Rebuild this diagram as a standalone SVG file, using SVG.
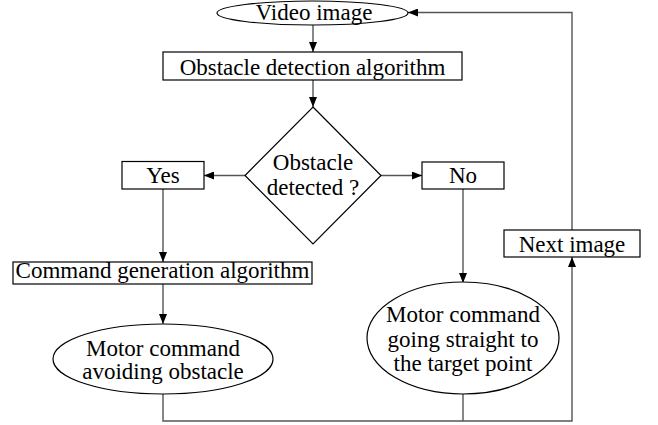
<svg xmlns="http://www.w3.org/2000/svg" width="658" height="425" viewBox="0 0 658 425">
<style>
.s{fill:#fff;stroke:#000;stroke-width:1.2}
text{font-family:'Liberation Serif','DejaVu Serif',serif;font-size:23px;fill:#000;text-anchor:middle}
.c{fill:none;stroke:#555;stroke-width:1.4}
</style>
<defs>
<marker id="a" viewBox="0 0 10 8" refX="10" refY="4" markerWidth="10" markerHeight="8" markerUnits="userSpaceOnUse" orient="auto">
<path d="M0,0L10,4L0,8z" fill="#000"/>
</marker>
</defs>
<rect width="658" height="425" fill="#fff"/>
<g id="connectors">
<line class="c" x1="313" y1="25" x2="313" y2="52" marker-end="url(#a)"/>
<line class="c" x1="313" y1="80" x2="313" y2="107" marker-end="url(#a)"/>
<line class="c" x1="245" y1="175.5" x2="204" y2="175.5" marker-end="url(#a)"/>
<line class="c" x1="381" y1="175.5" x2="422" y2="175.5" marker-end="url(#a)"/>
<line class="c" x1="163" y1="189" x2="163" y2="262" marker-end="url(#a)"/>
<line class="c" x1="163" y1="284" x2="163" y2="324" marker-end="url(#a)"/>
<line class="c" x1="463" y1="189" x2="463" y2="283" marker-end="url(#a)"/>
<polyline class="c" points="163,394 163,421 572,421 572,257" marker-end="url(#a)"/>
<line class="c" x1="463" y1="394" x2="463" y2="421"/>
<polyline class="c" points="572,230 572,12.5 408,12.5" marker-end="url(#a)"/>
</g>
<g id="video">
<ellipse class="s" cx="312.5" cy="13" rx="95.5" ry="12"/>
<text x="314" y="20">Video image</text>
</g>
<g id="detect">
<rect class="s" x="163" y="52" width="299" height="28"/>
<text x="312.5" y="75">Obstacle detection algorithm</text>
</g>
<g id="decision">
<polygon class="s" points="313,107 381,175.5 313,244 245,175.5"/>
<text x="313" y="170">Obstacle</text>
<text x="313" y="195">detected ?</text>
</g>
<g id="yes">
<rect class="s" x="122" y="161.5" width="82" height="27.5"/>
<text x="163" y="183">Yes</text>
</g>
<g id="no">
<rect class="s" x="422" y="162" width="82" height="27"/>
<text x="463" y="183">No</text>
</g>
<g id="cmdgen">
<rect class="s" x="13" y="262" width="299" height="22"/>
<text x="162.5" y="278">Command generation algorithm</text>
</g>
<g id="avoid">
<ellipse class="s" cx="163" cy="359" rx="110" ry="35"/>
<text x="163" y="356">Motor command</text>
<text x="163" y="379">avoiding obstacle</text>
</g>
<g id="straight">
<ellipse class="s" cx="463" cy="338" rx="96" ry="56"/>
<text x="463" y="322">Motor command</text>
<text x="463" y="347">going straight to</text>
<text x="463" y="371">the target point</text>
</g>
<g id="next">
<rect class="s" x="504" y="230" width="136" height="27"/>
<text x="572" y="252">Next image</text>
</g>
</svg>
